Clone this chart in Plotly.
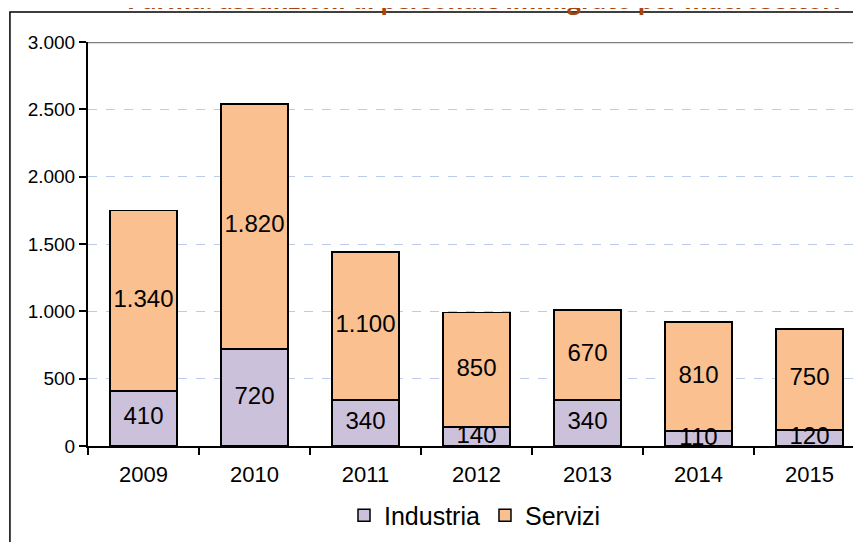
import plotly.graph_objects as go

years = ["2009", "2010", "2011", "2012", "2013", "2014", "2015"]
industria = [410, 720, 340, 140, 340, 110, 120]
servizi = [1340, 1820, 1100, 850, 670, 810, 750]
y_ticks = [0, 500, 1000, 1500, 2000, 2500, 3000]
title_text = "Parma: assunzioni di personale immigrato per macrosettori"

def fmt(v):
    return f"{v:,}".replace(",", ".")

FONT = "Liberation Sans, Arial, sans-serif"
C_IND = "#CCC1DA"
C_SER = "#FAC090"

fig = go.Figure()
fig.add_trace(go.Bar(x=years, y=industria, name="Industria",
                     marker=dict(color=C_IND, line=dict(color="#000000", width=1.5))))
fig.add_trace(go.Bar(x=years, y=servizi, name="Servizi",
                     marker=dict(color=C_SER, line=dict(color="#000000", width=1.5))))

# value labels, centred in each segment (positions derived from data)
fig.add_trace(go.Scatter(x=years, y=[v / 2 for v in industria], mode="text",
                         text=[fmt(v) for v in industria], showlegend=False,
                         textfont=dict(family=FONT, size=24, color="#000000"),
                         hoverinfo="skip", cliponaxis=True))
fig.add_trace(go.Scatter(x=years, y=[i + s / 2 for i, s in zip(industria, servizi)], mode="text",
                         text=[fmt(v) for v in servizi], showlegend=False,
                         textfont=dict(family=FONT, size=24, color="#000000"),
                         hoverinfo="skip", cliponaxis=True))

fig.update_layout(
    width=853, height=534,
    margin=dict(l=80, r=0, t=34, b=96),
    paper_bgcolor="white", plot_bgcolor="white",
    barmode="stack", bargap=0.4,
    separators=",.",
    font=dict(family=FONT, color="#000000"),
    showlegend=True,
    legend=dict(orientation="h", x=0.5, xanchor="center", y=-0.172, yanchor="middle",
                font=dict(family=FONT, size=25, color="#000000"), traceorder="normal",
                itemwidth=30, bgcolor="rgba(0,0,0,0)"),
    xaxis=dict(type="category", range=[-0.5, 6.464], showline=True, linecolor="#000000",
               linewidth=2, ticks="outside", tickson="boundaries", ticklen=7,
               tickcolor="#000000", tickwidth=2, showgrid=False, ticklabelstandoff=8,
               tickfont=dict(family=FONT, size=22, color="#000000")),
    yaxis=dict(range=[0, 3000], tickvals=y_ticks, tickformat=",d", showline=True,
               linecolor="#000000", linewidth=2, ticks="outside", ticklen=7,
               tickcolor="#000000", tickwidth=2, showgrid=True, gridcolor="#BCCBEA",
               griddash="dash", gridwidth=1, zeroline=False,
               tickfont=dict(family=FONT, size=19, color="#000000")),
    shapes=[
        dict(type="line", xref="paper", yref="y", x0=0, x1=1, y0=3000, y1=3000,
             line=dict(color="#7F7F7F", width=2.5), layer="above"),
        dict(type="rect", xref="paper", yref="paper", x0=-0.101, x1=1.2,
             y0=-0.4, y1=1.0743, line=dict(color="#000000", width=1.5)),
    ],
    annotations=[
        dict(text="<b>" + title_text + "</b>", xref="paper", yref="paper",
             x=0.511, y=1.104, xanchor="center", yanchor="middle", showarrow=False,
             font=dict(family="Open Sans, sans-serif", size=24, color="#A8450F")),
    ],
)

fig.write_html("out.html")
